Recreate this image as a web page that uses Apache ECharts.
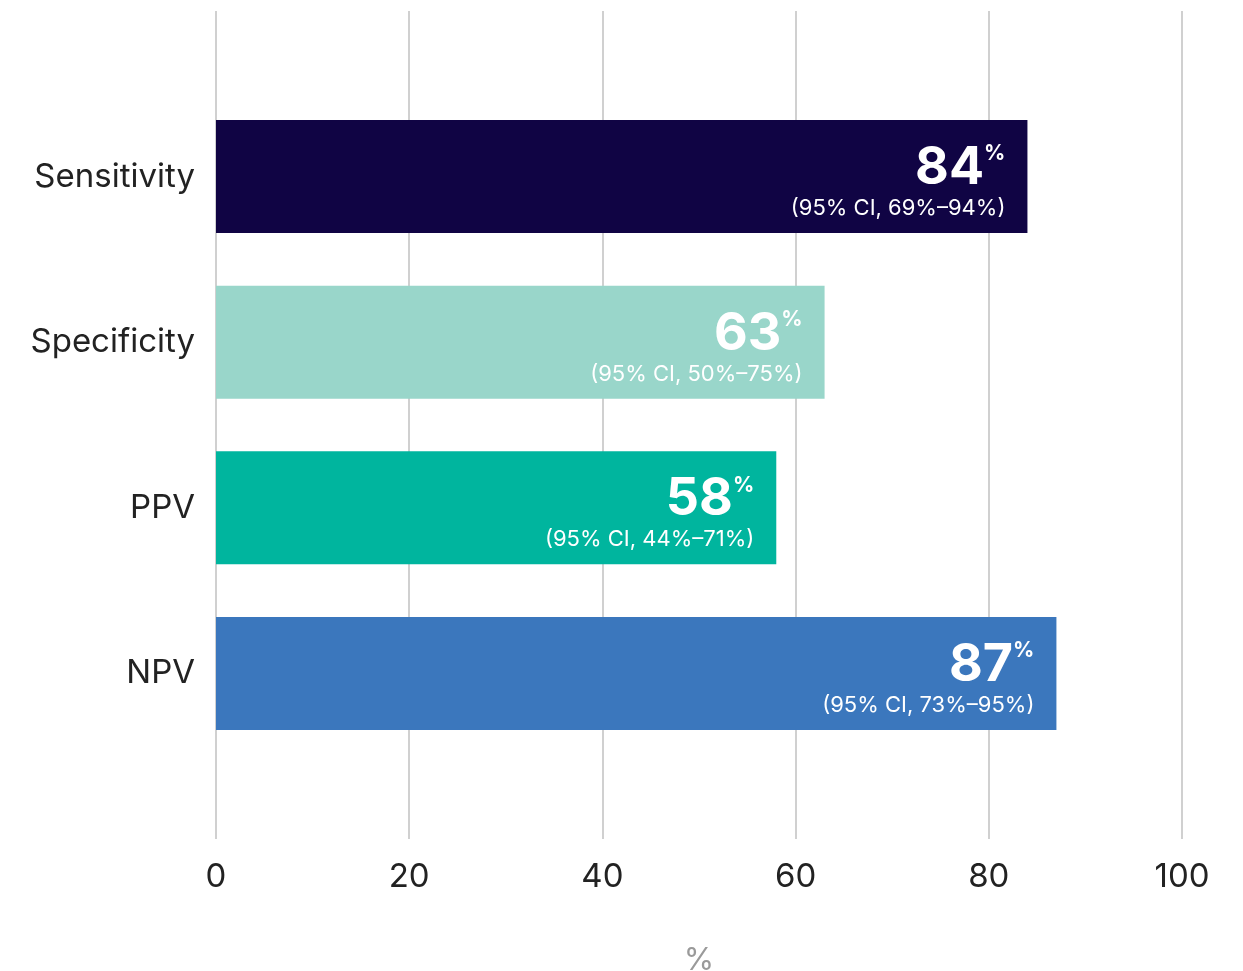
<!DOCTYPE html>
<html>
<head>
<meta charset="utf-8">
<script src="https://cdn.jsdelivr.net/npm/echarts@6/dist/echarts.min.js"></script>
<style>
html,body{margin:0;padding:0;background:#fff;overflow:hidden;}
#chart{width:1243px;height:971px;}
</style>
</head>
<body>
<div id="chart"></div>
<script>
const categories = ['Sensitivity', 'Specificity', 'PPV', 'NPV'];
const values = [84, 63, 58, 87];
const ciLow = [69, 50, 44, 73];
const ciHigh = [94, 75, 71, 95];
const barColors = ['#100444', '#99D6CA', '#00B59E', '#3B77BD'];
const xTicks = [0, 20, 40, 60, 80, 100];

const FONT = 'Inter, "Noto Sans", sans-serif';
const yData = [''].concat(categories).concat(['']);
const seriesData = [null].concat(values.map((v, i) => ({
  value: v,
  itemStyle: { color: barColors[i] }
}))).concat([null]);

const chart = echarts.init(document.getElementById('chart'));
chart.setOption({
  animation: false,
  backgroundColor: '#fff',
  grid: { left: 216, right: 61, top: 11, bottom: 132, containLabel: false, outerBoundsMode: 'none' },
  xAxis: {
    type: 'value',
    min: xTicks[0], max: xTicks[xTicks.length - 1], interval: 20,
    axisLine: { show: false },
    axisTick: { show: false },
    splitLine: { show: true, lineStyle: { color: '#d0d0d0', width: 2 } },
    axisLabel: { color: '#222', fontSize: 33, fontFamily: FONT, margin: 22 },
    name: '%',
    nameLocation: 'middle',
    nameGap: 106,
    nameTextStyle: { color: '#9a9a9a', fontSize: 31, fontFamily: FONT }
  },
  yAxis: {
    type: 'category',
    data: yData,
    inverse: true,
    boundaryGap: false,
    axisLine: { show: false },
    axisTick: { show: false },
    splitLine: { show: false },
    axisLabel: { color: '#222', fontSize: 33, fontFamily: FONT, margin: 21 }
  },
  series: [{
    type: 'bar',
    barWidth: 113,
    data: seriesData,
    label: {
      show: true,
      position: 'insideRight',
      distance: 22,
      offset: [0, 7],
      color: '#fff',
      fontFamily: FONT,
      align: 'right',
      formatter: function (p) {
        const i = p.dataIndex - 1;
        return '{v|' + values[i] + '}{p|%}\n{ci|(95% CI, ' + ciLow[i] + '%–' + ciHigh[i] + '%)}';
      },
      rich: {
        v: { fontSize: 52, fontWeight: 'bold', color: '#fff', fontFamily: FONT, lineHeight: 50 },
        p: { fontSize: 21, fontWeight: 'bold', color: '#fff', fontFamily: FONT, verticalAlign: 'top', lineHeight: 50, padding: [0, 0, 10, 0] },
        ci: { fontSize: 22, color: '#fff', fontFamily: FONT, lineHeight: 30, align: 'right' }
      }
    }
  }]
});
</script>
</body>
</html>
